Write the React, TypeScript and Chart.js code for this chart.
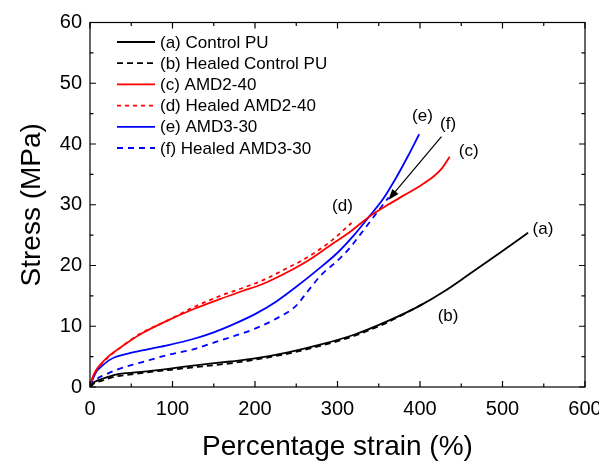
import { useEffect, useRef } from "react";
import { Chart, registerables } from "chart.js";

Chart.register(...registerables);

const FONT = "'Liberation Sans', Arial, Helvetica, sans-serif";

// Series names (legend)
const seriesNames = [
  "(a) Control PU",
  "(b) Healed Control PU",
  "(c) AMD2-40",
  "(d) Healed AMD2-40",
  "(e) AMD3-30",
  "(f) Healed AMD3-30",
];

// (a) Control PU
const controlX = [0, 4, 8, 14, 20, 30, 45, 62, 95, 130, 170, 200, 240, 280, 320, 360, 400, 430, 460, 497, 531];
const controlY = [0, 0.7, 1.0, 1.3, 1.6, 2.0, 2.3, 2.5, 3.0, 3.6, 4.2, 4.7, 5.7, 7.0, 8.6, 10.8, 13.4, 15.8, 18.6, 22.1, 25.4];

// (b) Healed Control PU
const healedControlX = [0, 4, 8, 14, 20, 30, 45, 62, 95, 130, 170, 200, 240, 280, 320, 360, 408];
const healedControlY = [0, 0.5, 0.8, 1.0, 1.3, 1.7, 2.0, 2.3, 2.8, 3.3, 3.9, 4.5, 5.5, 6.8, 8.4, 10.6, 14.0];

// (c) AMD2-40
const amd2X = [0, 3, 7, 14, 22, 38, 60, 95, 125, 158, 185, 210, 235, 263, 291, 315, 338, 360, 380, 400, 416, 426, 436];
const amd2Y = [0, 1.5, 2.7, 3.9, 5.0, 6.6, 8.6, 11.0, 12.8, 14.5, 15.8, 17.0, 18.6, 20.7, 23.3, 25.5, 28.0, 29.9, 31.5, 33.1, 34.6, 35.9, 37.9];

// (d) Healed AMD2-40
const healedAmd2X = [0, 3, 7, 14, 22, 38, 60, 95, 125, 158, 185, 210, 235, 263, 291, 317];
const healedAmd2Y = [0, 1.4, 2.6, 3.8, 4.9, 6.6, 8.7, 11.0, 13.1, 15.0, 16.3, 17.6, 19.3, 21.3, 23.9, 27.0];

// (e) AMD3-30
const amd3X = [0, 4, 8, 14, 22, 30, 46, 70, 95, 125, 150, 175, 200, 225, 250, 275, 300, 320, 338, 355, 370, 385, 399];
const amd3Y = [0, 1.5, 2.6, 3.4, 4.3, 4.9, 5.5, 6.2, 6.9, 7.9, 9.0, 10.4, 12.0, 14.0, 16.5, 19.2, 22.1, 25.0, 28.0, 30.9, 34.2, 37.9, 41.6];

// (f) Healed AMD3-30
const healedAmd3X = [0, 5, 10, 18, 28, 38, 50, 66, 95, 125, 150, 175, 200, 225, 250, 263, 280, 300, 315, 327, 341, 355, 362];
const healedAmd3Y = [0, 0.8, 1.5, 2.0, 2.6, 3.1, 3.6, 4.2, 5.3, 6.2, 7.3, 8.4, 9.6, 11.2, 13.4, 15.6, 18.4, 20.8, 22.9, 25.0, 27.5, 30.0, 31.2];

// Axis settings
const xMin = 0, xMax = 600, xMajor = 100, xMinor = 50;
const yMin = 0, yMax = 60, yMajor = 10, yMinor = 5;

// Curve annotations (label, x, y in data units)
const annotations: [string, number, number][] = [
  ["(a)", 549, 26.0],
  ["(b)", 434, 11.7],
  ["(c)", 459, 38.8],
  ["(d)", 306, 29.7],
  ["(e)", 403, 44.5],
  ["(f)", 434, 43.2],
];
// Arrow from (f) label to end of curve f (data units)
const arrowFrom = [426, 41.2];
const arrowTo = [361.6, 30.8];

export default function App() {
  const ref = useRef<HTMLCanvasElement>(null);

  useEffect(() => {
    const canvas = ref.current!;
    const mk = (xs: number[], ys: number[]) => xs.map((x, i) => ({ x, y: ys[i] }));
    const colors = ["#000000", "#000000", "#ff0000", "#ff0000", "#0000ff", "#0000ff"];
    const dashes: number[][] = [[], [6, 4], [], [4, 4], [], [6, 5]];
    const xs = [controlX, healedControlX, amd2X, healedAmd2X, amd3X, healedAmd3X];
    const ys = [controlY, healedControlY, amd2Y, healedAmd2Y, amd3Y, healedAmd3Y];

    const datasets = seriesNames.map((name, i) => ({
      label: name,
      data: mk(xs[i], ys[i]),
      borderColor: colors[i],
      backgroundColor: colors[i],
      borderDash: dashes[i],
      borderWidth: 1.8,
      pointRadius: 0,
      fill: false,
      cubicInterpolationMode: "monotone" as const,
    }));

    const framePlugin = {
      id: "frame",
      afterDraw(chart: any) {
        const { ctx, chartArea: a, scales } = chart;
        const sx = scales.x, sy = scales.y;
        ctx.save();
        ctx.strokeStyle = "#000";
        ctx.lineWidth = 1.2;
        ctx.setLineDash([]);
        ctx.strokeRect(a.left, a.top, a.right - a.left, a.bottom - a.top);
        ctx.beginPath();
        for (let v = xMin; v <= xMax; v += xMinor) {
          const p = sx.getPixelForValue(v);
          const len = v % xMajor === 0 ? 6 : 3.5;
          ctx.moveTo(p, a.bottom); ctx.lineTo(p, a.bottom - len);
          ctx.moveTo(p, a.top); ctx.lineTo(p, a.top + len);
        }
        for (let v = yMin; v <= yMax; v += yMinor) {
          const p = sy.getPixelForValue(v);
          const len = v % yMajor === 0 ? 6 : 3.5;
          ctx.moveTo(a.left, p); ctx.lineTo(a.left + len, p);
          ctx.moveTo(a.right, p); ctx.lineTo(a.right - len, p);
        }
        ctx.stroke();

        // Legend
        ctx.font = `17px ${FONT}`;
        ctx.textBaseline = "middle";
        ctx.textAlign = "left";
        chart.data.datasets.forEach((ds: any, i: number) => {
          const yy = 42 + i * 21.2;
          ctx.beginPath();
          ctx.strokeStyle = ds.borderColor;
          ctx.lineWidth = 1.8;
          ctx.setLineDash(ds.borderDash || []);
          ctx.moveTo(117, yy);
          ctx.lineTo(155, yy);
          ctx.stroke();
          ctx.setLineDash([]);
          ctx.fillStyle = "#000";
          ctx.fillText(ds.label, 160, yy + 1);
        });

        // Annotations
        ctx.textAlign = "center";
        ctx.fillStyle = "#000";
        annotations.forEach(([t, x, y]) => {
          ctx.fillText(t, sx.getPixelForValue(x), sy.getPixelForValue(y));
        });

        // Arrow
        const x1 = sx.getPixelForValue(arrowFrom[0]), y1 = sy.getPixelForValue(arrowFrom[1]);
        const x2 = sx.getPixelForValue(arrowTo[0]), y2 = sy.getPixelForValue(arrowTo[1]);
        const ang = Math.atan2(y2 - y1, x2 - x1);
        const hl = 11, hw = 4;
        ctx.strokeStyle = "#000";
        ctx.lineWidth = 1.2;
        ctx.beginPath();
        ctx.moveTo(x1, y1);
        ctx.lineTo(x2 - Math.cos(ang) * hl * 0.8, y2 - Math.sin(ang) * hl * 0.8);
        ctx.stroke();
        ctx.beginPath();
        ctx.moveTo(x2, y2);
        ctx.lineTo(x2 - Math.cos(ang) * hl + Math.sin(ang) * hw, y2 - Math.sin(ang) * hl - Math.cos(ang) * hw);
        ctx.lineTo(x2 - Math.cos(ang) * hl - Math.sin(ang) * hw, y2 - Math.sin(ang) * hl + Math.cos(ang) * hw);
        ctx.closePath();
        ctx.fillStyle = "#000";
        ctx.fill();
        ctx.restore();
      },
    };

    const chart = new Chart(canvas, {
      type: "line",
      data: { datasets: datasets as any },
      options: {
        responsive: false,
        animation: false,
        layout: { padding: { top: 22.5, right: 14, bottom: 0, left: 0 } },
        plugins: { legend: { display: false }, tooltip: { enabled: false } },
        scales: {
          x: {
            type: "linear",
            min: xMin,
            max: xMax,
            grid: { display: false, drawTicks: false },
            border: { display: false },
            ticks: { stepSize: xMajor, color: "#000", font: { family: FONT, size: 20 }, padding: 10, maxRotation: 0, autoSkip: false },
            title: { display: true, text: "Percentage strain (%)", color: "#000", font: { family: FONT, size: 28 }, padding: { top: 0, bottom: -1 } },
            afterFit(s: any) { s.height = 76; s.paddingLeft = 0; s.paddingRight = 0; },
          },
          y: {
            type: "linear",
            min: yMin,
            max: yMax,
            grid: { display: false, drawTicks: false },
            border: { display: false },
            ticks: { stepSize: yMajor, color: "#000", font: { family: FONT, size: 20 }, padding: 8, autoSkip: false },
            title: { display: true, text: "Stress (MPa)", color: "#000", font: { family: FONT, size: 28 }, padding: { top: 15, bottom: 0 } },
            afterFit(s: any) { s.width = 90; s.paddingTop = 0; s.paddingBottom = 0; },
          },
        },
      },
      plugins: [framePlugin],
    });
    return () => chart.destroy();
  }, []);

  return (
    <div style={{ position: "fixed", left: 0, top: 0, width: 599, height: 463, background: "#fff" }}>
      <canvas ref={ref} width={599} height={463} style={{ display: "block" }} />
    </div>
  );
}
